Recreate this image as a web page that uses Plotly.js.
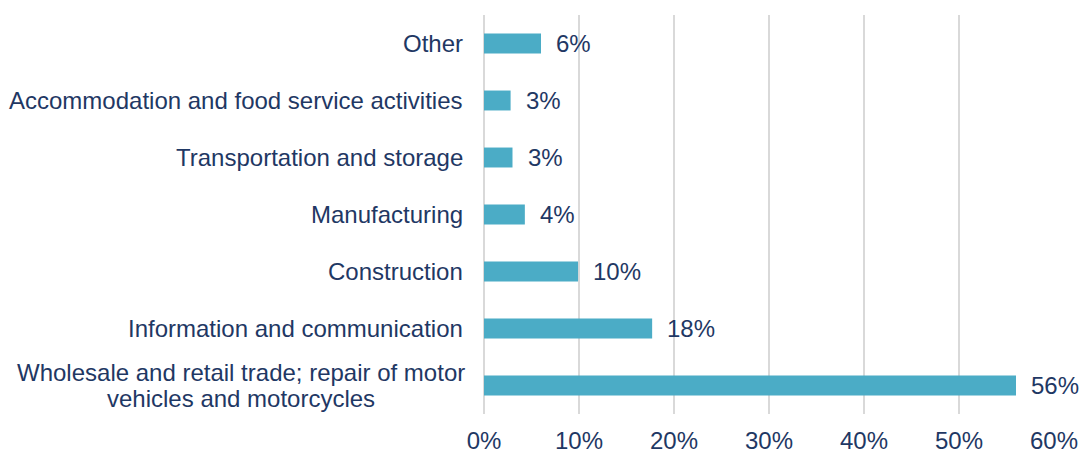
<!DOCTYPE html>
<html>
<head>
<meta charset="utf-8">
<script src="https://cdn.plot.ly/plotly-3.0.1.min.js"></script>
<style>html,body{margin:0;padding:0;background:#fff;}#chart{width:1085px;height:454px;}</style>
</head>
<body>
<div id="chart"></div>
<script>
const categories = [
  "Wholesale and retail trade; repair of motor<br>vehicles and motorcycles",
  "Information and communication",
  "Construction",
  "Manufacturing",
  "Transportation and storage",
  "Accommodation and food service activities",
  "Other"
];
const shares = [0.560, 0.177, 0.099, 0.043, 0.030, 0.028, 0.060];
const valueLabels = ["56%", "18%", "10%", "4%", "3%", "3%", "6%"];
const xTickVals = [0, 0.1, 0.2, 0.3, 0.4, 0.5, 0.6];
const xTickText = ["0%", "10%", "20%", "30%", "40%", "50%", "60%"];

const textColor = "#1F3864";
const fontFamily = "Liberation Sans, Arial, sans-serif";
const fontSize = 24;
const font = {family: fontFamily, size: fontSize, color: textColor};

// measure text width for centring wrapped category labels
const cv = document.createElement("canvas").getContext("2d");
cv.font = fontSize + "px 'Liberation Sans', Arial, sans-serif";
function textWidth(s) { return cv.measureText(s).width; }

const labelGap = 19;
const lineStep = 25.5;

const annotations = [];
categories.forEach((c, i) => {
  annotations.push({
    x: shares[i], y: c, xref: "x", yref: "y",
    text: valueLabels[i], showarrow: false,
    xanchor: "left", xshift: 13,
    font: font
  });
  const lines = c.split("<br>");
  if (lines.length === 1) {
    annotations.push({
      x: 0, y: c, xref: "paper", yref: "y",
      text: c, showarrow: false,
      xanchor: "right", xshift: -labelGap,
      font: font
    });
  } else {
    const maxW = Math.max(...lines.map(textWidth));
    lines.forEach((ln, k) => {
      annotations.push({
        x: 0, y: c, xref: "paper", yref: "y",
        text: ln, showarrow: false,
        xanchor: "center", xshift: -labelGap - maxW / 2,
        yshift: ((lines.length - 1) / 2 - k) * lineStep,
        font: font
      });
    });
  }
});

const trace = {
  type: "bar", orientation: "h",
  x: shares, y: categories,
  marker: {color: "#4BACC6"},
  width: 0.35,
  hoverinfo: "skip"
};

const layout = {
  width: 1085, height: 454,
  margin: {l: 484, r: 31, t: 15, b: 40},
  paper_bgcolor: "#fff", plot_bgcolor: "#fff",
  showlegend: false,
  font: font,
  xaxis: {
    range: [0, 0.6],
    tickvals: xTickVals, ticktext: xTickText,
    showgrid: true, gridcolor: "#D9D9D9", gridwidth: 2,
    zeroline: true, zerolinecolor: "#D9D9D9", zerolinewidth: 2,
    showline: false, ticks: "", ticklabelstandoff: 10,
    tickfont: font, fixedrange: true
  },
  yaxis: {
    type: "category",
    categoryorder: "array", categoryarray: categories,
    range: [-0.5, 6.5],
    showticklabels: false, showgrid: false, zeroline: false, showline: false,
    ticks: "", fixedrange: true
  },
  annotations: annotations
};

Plotly.newPlot("chart", [trace], layout, {displayModeBar: false, staticPlot: true});
</script>
</body>
</html>
